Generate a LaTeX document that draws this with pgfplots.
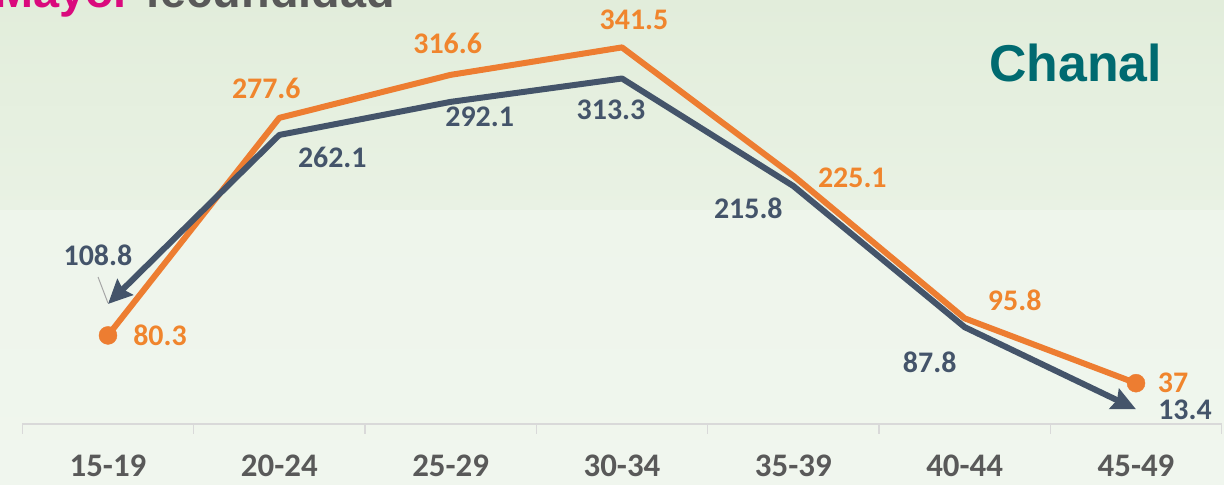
\documentclass[border=0pt]{standalone}
\usepackage{pgfplots}
\pgfplotsset{compat=1.18}
\usepackage{pgfplotstable}
\usepackage{fontspec}
\setmainfont{Carlito}
\newfontfamily\arial{Liberation Sans}
\usetikzlibrary{arrows.meta}

\definecolor{cOrange}{HTML}{ED7D31}
\definecolor{cOrangeT}{HTML}{F0852D}
\definecolor{cDark}{HTML}{44546A}
\definecolor{cTick}{HTML}{595959}
\definecolor{cAxis}{HTML}{D9D9D9}
\definecolor{cTeal}{HTML}{006A70}
\definecolor{cMag}{HTML}{DA0A7D}
\definecolor{cGray}{HTML}{595959}
\definecolor{bgTop}{HTML}{E2EDDB}
\definecolor{bgMid}{HTML}{E9F2E4}
\definecolor{bgLow}{HTML}{EEF5EB}
\definecolor{bgBot}{HTML}{F0F6EE}

\pgfplotstableread{
x y dx dy lab
0 80.3 52 0 80.3
1 277.6 -13 29 277.6
2 316.6 -3 31 316.6
3 341.5 12 28 341.5
4 225.1 59 -2 225.1
5 95.8 50 18 95.8
6 37 37 0 37
}\orangetab

\pgfplotstableread{
x y
0 80.3
6 37
}\orangeends

\pgfplotstableread{
x y dx dy lab
0 108.8 -10 49 108.8
1 262.1 53 -22 262.1
2 292.1 29 -15 292.1
3 313.3 -11 -31 313.3
4 215.8 -45 -22 215.8
5 87.8 -35 -35 87.8
6 13.4 49 -1 13.4
}\darktab

\pgfplotsset{
  mylabels/.style={
    nodes near coords, point meta=explicit symbolic,
    visualization depends on={\thisrow{dx} \as \dx},
    visualization depends on={\thisrow{dy} \as \dy},
    every node near coord/.append style={anchor=center, inner sep=0pt, xshift=\dx bp, yshift=\dy bp, font=\fontsize{30}{36}\selectfont\bfseries, text=#1},
  }
}

\begin{document}
\begin{tikzpicture}[x=1bp,y=1bp]
\useasboundingbox (0,0) rectangle (1224,485);
\fill[top color=bgTop,bottom color=bgMid] (0,274) rectangle (1224,485);
\fill[top color=bgLow,bottom color=bgBot] (0,0) rectangle (1224,274);

\node[anchor=base west, inner sep=0pt, font=\arial\fontsize{47}{56}\selectfont\bfseries] at (-6,477) {\textcolor{cMag}{Mayor} \textcolor{cGray}{fecundidad}};
\node[anchor=base west, inner sep=0pt, font=\arial\fontsize{52}{60}\selectfont\bfseries, text=cTeal] at (989,403) {Chanal};

\begin{axis}[
  at={(22.3bp,61bp)}, anchor=south west,
  scale only axis, width=1199.4bp, height=424bp,
  xmin=-0.5, xmax=6.5, ymin=0, ymax=384.5,
  axis x line*=bottom, hide y axis,
  xtick={0,...,6},
  xticklabels={15-19,20-24,25-29,30-34,35-39,40-44,45-49},
  major tick length=0pt,
  minor xtick={-0.5,0.5,...,6.5},
  minor tick length=10bp,
  tick align=outside,
  minor x tick style={draw=cAxis, line width=1.5bp},
  x axis line style={draw=cAxis, line width=2bp, -},
  xticklabel style={font=\fontsize{33}{40}\selectfont\bfseries, text=cTick, anchor=base, yshift=-53bp},
  clip=false,
]
\addplot[cOrange, line width=6bp, line join=round, mark=none, mylabels=cOrangeT]
  table[x=x,y=y,meta=lab] {\orangetab};
\addplot[cOrange, only marks, mark=*, mark size=9bp, mark options={fill=cOrange, draw=none}]
  table[x=x,y=y] {\orangeends};
\addplot[cDark, line width=6bp, line join=round, mark=none,
  arrows={Stealth[length=24bp,width=22bp,inset=3bp]-Stealth[length=24bp,width=22bp,inset=3bp]},
  mylabels=cDark]
  table[x=x,y=y,meta=lab] {\darktab};
\draw[gray!70, line width=1bp] (axis cs:-0.058,133.3) -- (axis cs:0,109.7);
\end{axis}
\end{tikzpicture}
\end{document}
